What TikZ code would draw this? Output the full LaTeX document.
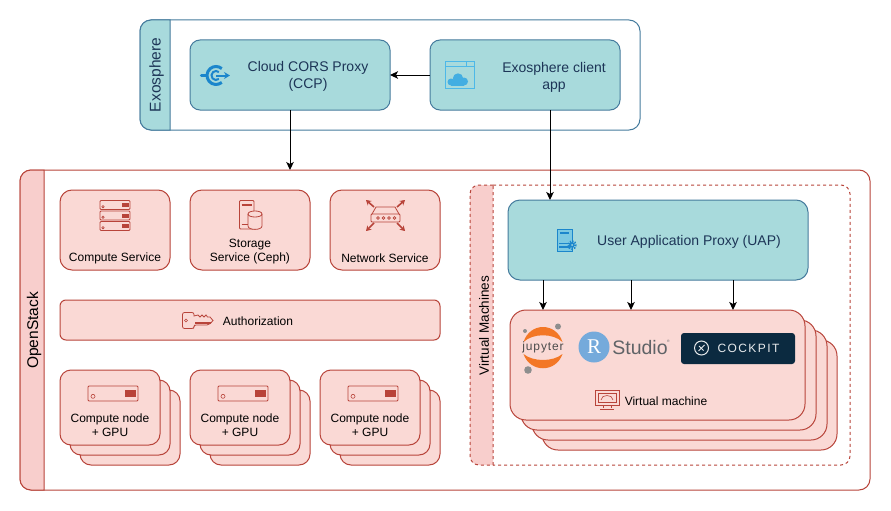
\documentclass[tikz,border=0pt]{standalone}
\usepackage{fontspec}
\setmainfont{Liberation Sans}
\newfontfamily\serifR{Liberation Serif}
\usetikzlibrary{arrows.meta}
\definecolor{redfill}{HTML}{FAD9D5}
\definecolor{redline}{HTML}{B8443A}
\definecolor{stripfill}{HTML}{F8CECC}
\definecolor{tealfill}{HTML}{A8DADC}
\definecolor{tealline}{HTML}{457B9D}
\definecolor{tealtxt}{HTML}{1D3557}
\definecolor{iconblue}{HTML}{1B86CC}
\definecolor{iconsky}{HTML}{4DB8E8}
\definecolor{jupyorange}{HTML}{F37726}
\definecolor{jupygray}{HTML}{8E8E8E}
\definecolor{rblue}{HTML}{75AADB}
\definecolor{rgray}{HTML}{5F6367}
\definecolor{cocknavy}{HTML}{0B2A40}
\tikzset{
	redbox/.style={draw=redline, fill=redfill, line width=1pt, inner sep=0pt, outer sep=0pt},
	tealbox/.style={draw=tealline, fill=tealfill, line width=1pt, inner sep=0pt, outer sep=0pt},
	redtext/.style={font=\fontsize{12}{14}\selectfont, text=black, align=center, inner sep=0pt},
	tealtext/.style={font=\fontsize{14}{17}\selectfont, text=tealtxt, align=center, inner sep=0pt},
	flow/.style={->, line width=1pt, draw=black},
	icon/.style={draw=redline, line width=.8pt},
	pics/serverunit/.style={code={
		\draw[icon, rounded corners=1pt] (-15,-4.5) rectangle (15,4.5);
		\draw[icon, line width=.6pt] (-12,1.7) circle (1.2);
		\fill[redline] (7,-2) rectangle (14,2);
	}}
}
\begin{document}
\begin{tikzpicture}[x=1pt, y=-1pt, >={Stealth[length=8pt,width=7.5pt,inset=2pt]}]
	\useasboundingbox (0,0) rectangle (891,511);
	% Exosphere
	\node (exosphere) [draw=tealline, fill=white, line width=1pt, rounded corners=11pt, minimum width=500pt, minimum height=110pt, outer sep=0pt] at (390,75) {};
	\draw[fill=tealfill, draw=tealline, line width=1pt] (170,20) [rounded corners=11pt] -- (140,20) -- (140,130) [sharp corners] -- (170,130) -- cycle;
	\node (exolabel) [tealtext, font=\fontsize{15.5}{17}\selectfont, rotate=90] at (156.5,75) {Exosphere};
	\node (ccp) [tealbox, rounded corners=10pt, minimum width=200pt, minimum height=70pt] at (290,75) {};
	\node (client) [tealbox, rounded corners=10pt, minimum width=190pt, minimum height=70pt] at (525,75) {};
	\node (ccptext) [tealtext] at (308,76) {Cloud CORS Proxy\\(CCP)};
	\node (clienttext) [tealtext] at (554,77.5) {Exosphere client\\app};
	% ccp icon
	\draw[iconblue, line width=3pt] (216,75.5) ++(50:9) arc (50:310:9);
	\draw[iconblue, line width=2pt] (216,75.5) ++(50:4.5) arc (50:310:4.5);
	\draw[iconblue, line width=3.4pt, line cap=round] (201.5,75.5) -- (206,75.5);
	\draw[iconblue, line width=2pt, -{Stealth[length=6pt,width=7pt]}] (216,75.5) -- (230,75.5);
	% client icon
	\draw[iconsky, line width=1pt, fill=tealfill] (445.5,61.5) rectangle (474.5,88.5);
	\draw[iconsky, line width=1pt] (445.5,67) -- (474.5,67) (466,61.5) -- (466,67);
	\fill[iconsky!80!iconblue] (451,82) circle (3.5);
	\fill[iconsky!80!iconblue] (458,78.5) circle (5.2);
	\fill[iconsky!80!iconblue] (464,81.5) circle (4);
	\fill[iconsky!80!iconblue] (451,81) rectangle (464,85.5);
	% OpenStack
	\node (openstack) [draw=redline, fill=white, line width=1pt, rounded corners=11pt, minimum width=850pt, minimum height=320pt, outer sep=0pt] at (445,330) {};
	\draw[fill=stripfill, draw=redline, line width=1pt] (44,170) [rounded corners=11pt] -- (20,170) -- (20,490) [sharp corners] -- (44,490) -- cycle;
	\node (oslabel) [tealtext, text=black, font=\fontsize{15.5}{17}\selectfont, rotate=90] at (34,330.5) {OpenStack};
	\node (compute) [redbox, rounded corners=12pt, minimum width=110pt, minimum height=80pt] at (115,230) {};
	\node (storage) [redbox, rounded corners=12pt, minimum width=120pt, minimum height=80pt] at (250,230) {};
	\node (network) [redbox, rounded corners=12pt, minimum width=110pt, minimum height=80pt] at (385,230) {};
	\node (auth) [redbox, rounded corners=6pt, minimum width=380pt, minimum height=40pt] at (250,320) {};
	\node (computetext) [redtext] at (115,258) {Compute Service};
	\node (storagetext) [redtext] at (250,251.5) {Storage\\Service (Ceph)};
	\node (networktext) [redtext] at (385,258) {Network Service};
	\node (authtext) [redtext] at (258,321) {Authorization};
	% service icons
	\pic at (115,205) {serverunit};
	\pic at (115,215.5) {serverunit};
	\pic at (115,226) {serverunit};
	\draw[icon, rounded corners=1pt] (239.5,200.5) rectangle (254,229);
	\draw[redline, line width=1.5pt] (241.5,205) -- (252,205) (241.5,224.5) -- (248,224.5);
	\draw[icon, fill=redfill] (248,214) -- (248,226) .. controls (248,230.5) and (262,230.5) .. (262,226) -- (262,214) .. controls (262,210) and (248,210) .. (248,214) -- cycle;
	\draw[icon] (248,214) .. controls (248,218) and (262,218) .. (262,214);
	\draw[icon] (372,214) -- (376,207) -- (395,207) -- (399,214);
	\draw[icon, rounded corners=1pt] (371,214) rectangle (400,222);
	\foreach \px in {378,383.5,389,394.5}
		\draw[icon, line width=.6pt] (\px,218) circle (1.4);
	\draw[redline, line width=1.6pt, -{Stealth[length=5pt,width=6pt]}] (374,207) -- (366,200);
	\draw[redline, line width=1.6pt, -{Stealth[length=5pt,width=6pt]}] (397,207) -- (405,200);
	\draw[redline, line width=1.6pt, -{Stealth[length=5pt,width=6pt]}] (374,223) -- (366,231);
	\draw[redline, line width=1.6pt, -{Stealth[length=5pt,width=6pt]}] (397,223) -- (405,231);
	% key
	\draw[icon, rounded corners=2pt] (194,316) -- (194,312.5) -- (182.5,312.5) -- (182.5,328.5) -- (194,328.5) -- (194,325) -- (209,325) [sharp corners] -- (213,320.5) -- (210,317) -- (207.5,317) -- (206,315) -- (204,317) -- (202,315) -- (200,317) -- (198,315) -- cycle;
	\draw[icon, line width=.6pt] (186,320.5) circle (1.5);
	\fill[redline] (195,321.5) rectangle (211,324);
	% Compute nodes
	\foreach \gx in {60,190,320}{
		\foreach \dx in {20,10,0}
			\node (node\gx-\dx) [redbox, rounded corners=11pt, minimum width=100pt, minimum height=75pt] at (\gx+50+\dx,407.5+\dx) {};
		\node (nodetext\gx) [redtext] at (\gx+50,425.5) {Compute node\\+ GPU};
		\pic[scale=1.667] at (\gx+53,393.5) {serverunit};
	}
	% Virtual Machines
	\draw[fill=stripfill, draw=redline, line width=1pt, dashed] (493,185) [rounded corners=9pt] -- (470,185) -- (470,465) [sharp corners] -- (493,465) -- cycle;
	\draw[draw=redline, line width=1pt, dashed] (493,185) [rounded corners=9pt] -- (850,185) -- (850,465) [sharp corners] -- (493,465);
	\node (vmlabel) [redtext, font=\fontsize{13.5}{15}\selectfont, rotate=90] at (484,325.5) {Virtual Machines};
	\node (uap) [tealbox, rounded corners=12pt, minimum width=300pt, minimum height=80pt] at (658,240) {};
	\node (uaptext) [tealtext] at (689,242) {User Application Proxy (UAP)};
	\draw[iconblue, fill=iconsky!50!tealfill, line width=.9pt] (557.5,229.5) rectangle (572,251.5);
	\draw[iconblue, line width=1.3pt] (560,233) -- (569,233) (559,243.5) -- (570,243.5) (559,247) -- (570,247);
	\draw[iconblue, line width=2.4pt, dash pattern=on 1.2pt off 1.2pt] (572,245) circle (3.6);
	\fill[iconblue] (572,245) circle (2.6);
	\fill[tealfill] (572,245) circle (1);
	% Virtual machine stack
	\foreach \vn/\vx/\vy in {d/32/30,c/22/20,b/11/10,a/0/0}
		\node (vm\vn) [redbox, rounded corners=16pt, minimum width=295pt, minimum height=110pt] at (657.5+\vx,365+\vy) {};
	\node (vmtext) [redtext] at (666,401) {Virtual machine};
	\draw[icon] (595.5,390.5) rectangle (619,405);
	\draw[icon, line width=.6pt] (598,393) rectangle (616.5,402.5);
	\draw[icon, line width=.6pt] (601,400) .. controls (601,394) and (613,394) .. (613,400);
	\draw[icon] (603,405) -- (603,408) (611,405) -- (611,408) (600,409) -- (614,409);
	% jupyter
	\fill[jupyorange] (523.5,342) .. controls (530,322) and (556,322) .. (562.5,342) .. controls (553,333) and (533,333) .. (523.5,342) -- cycle;
	\fill[jupyorange] (523.5,354) .. controls (530,373) and (556,373) .. (562.5,354) .. controls (553,362) and (533,362) .. (523.5,354) -- cycle;
	\fill[jupygray] (558,326.5) circle (3);
	\fill[jupygray] (525,331) circle (2);
	\fill[jupygray] (528,370) circle (3.8);
	\node (jupyter) [redtext, text=black!70, font=\fontsize{12}{12}\selectfont\addfontfeature{LetterSpace=7}] at (543,347.5) {jupyter};
	% rstudio
	\node (rlogo) [circle, fill=rblue, minimum size=31pt, inner sep=0pt, text=white, font=\serifR\fontsize{21}{21}\selectfont] at (594,347) {R};
	\node (studio) [redtext, text=rgray, font=\fontsize{19.5}{20}\selectfont] at (640,347.5) {Studio};
	\node (regmark) [redtext, text=rgray, font=\fontsize{3.5}{4}\selectfont] at (668.5,341) {®};
	% cockpit
	\node (cockpit) [fill=cocknavy, rounded corners=3pt, minimum width=114pt, minimum height=31pt, inner sep=0pt] at (738,348.5) {};
	\draw[white!90!cocknavy, line width=1pt] (701.5,348) circle (7);
	\draw[white!90!cocknavy, line width=1pt] (698.5,351) -- (704.5,345) (699,346) -- (703.5,350.5);
	\node (cockpittext) [redtext, text=white!90!cocknavy, font=\fontsize{12}{12}\selectfont\addfontfeature{LetterSpace=12}] at (748.5,348) {COCKPIT};
	% connectors
	\draw[flow] (client.west) -- (ccp.east);
	\draw[flow] (ccp.south) -- (ccp.south |- openstack.north);
	\draw[flow] ([xshift=25pt]client.south) -- ([xshift=25pt]client.south |- uap.north);
	\foreach \ux in {-115,-27,75}
		\draw[flow] ([xshift=\ux pt]uap.south) -- ([xshift=\ux pt]uap.south |- vma.north);
\end{tikzpicture}
\end{document}
